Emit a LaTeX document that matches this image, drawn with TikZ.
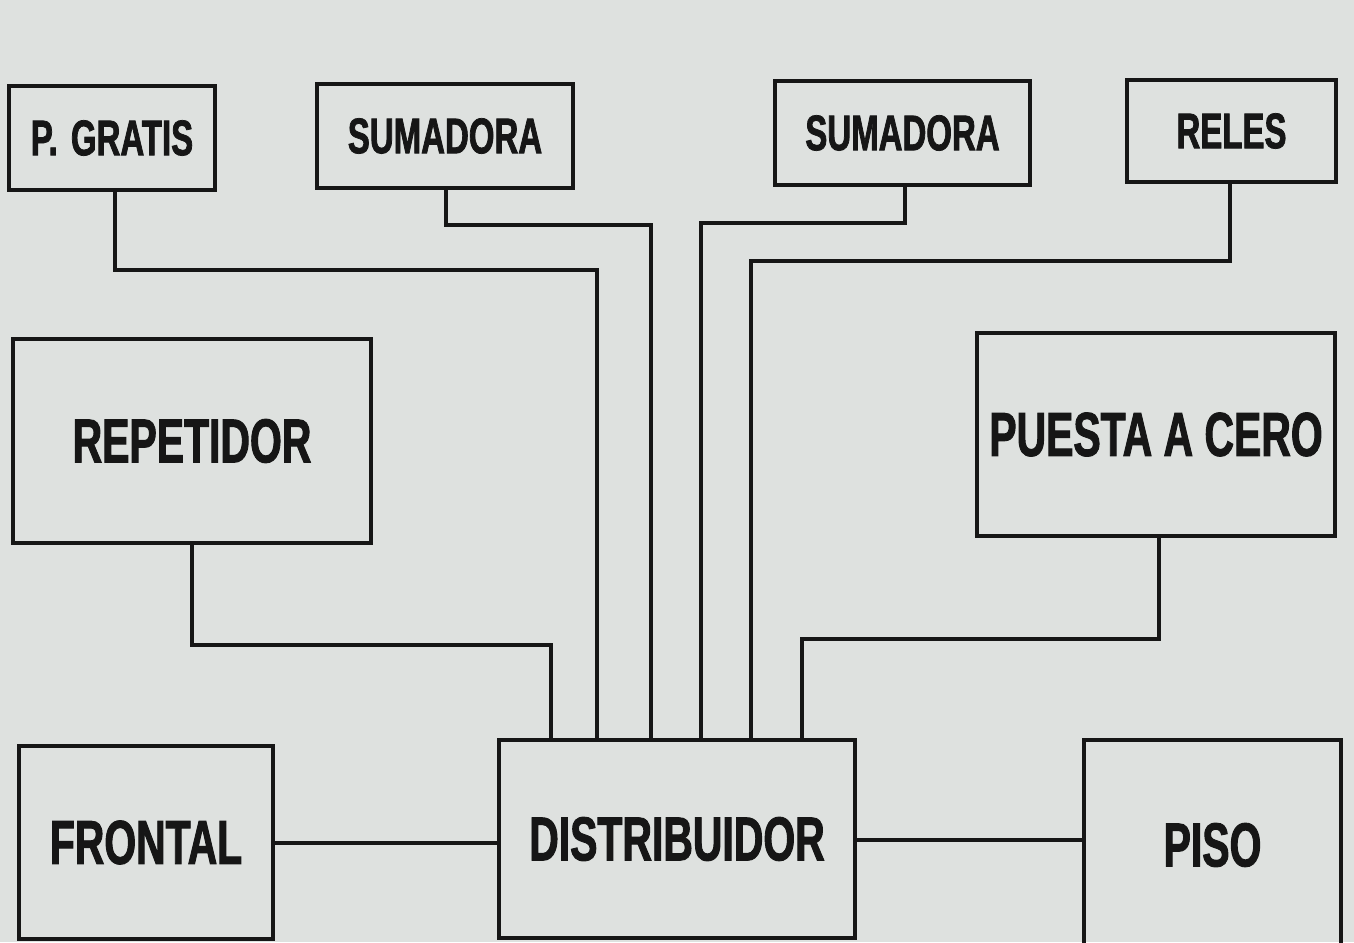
\documentclass[tikz,border=0pt]{standalone}
\usepackage{fontspec}
\newfontfamily\labfont[FakeStretch=0.66,FakeBold=1.5]{Liberation Sans}
\usetikzlibrary{calc}
\definecolor{paper}{RGB}{222,225,223}
\definecolor{ink}{RGB}{22,22,22}
\begin{document}
\begin{tikzpicture}[x=0.5pt,y=0.5pt,
  box/.style={draw=ink, line width=2pt, rectangle, inner sep=0pt, text=ink},
  smallbox/.style={box, font=\labfont\bfseries\fontsize{25}{25}\selectfont},
  bigbox/.style={box, font=\labfont\bfseries\fontsize{31}{31}\selectfont},
  wire/.style={draw=ink, line width=1.8pt, line join=miter}]
\fill[paper] (0,0) rectangle (1354,942);
\useasboundingbox (0,0) rectangle (1354,942);
\clip (0,0) rectangle (1354,942);
% top small boxes (sizes in pt = half of pixel sizes)
\node[smallbox, minimum width=103pt, minimum height=52pt] (pg) at (112,804) {P.\hspace{2pt} GRATIS};
\node[smallbox, minimum width=128pt, minimum height=52pt] (s1) at (445,806) {SUMADORA};
\node[smallbox, minimum width=127.5pt, minimum height=52pt] (s2) at (902.5,809) {SUMADORA};
\node[smallbox, minimum width=104.5pt, minimum height=51pt] (rel) at (1231.5,811) {RELES};
% middle boxes
\node[bigbox, minimum width=179pt, minimum height=102pt] (rep) at (192,501) {REPETIDOR};
\node[bigbox, minimum width=179pt, minimum height=101.5pt] (pc) at (1156,507.5) {PUESTA A CERO};
% bottom boxes
\node[bigbox, minimum width=178pt, minimum height=99pt] (dist) at (677,103) {DISTRIBUIDOR};
\node[bigbox, minimum width=127pt, minimum height=96.5pt] (fr) at (146,99.5) {FRONTAL};
\node[bigbox, minimum width=128.5pt, minimum height=105pt] (piso) at (1212.5,97) {PISO};
% connectors
\draw[wire] (pg.south -| 115,0) |- (597,672) -- (dist.north -| 597,0);
\draw[wire] (s1.south -| 446,0) |- (651,717) -- (dist.north -| 651,0);
\draw[wire] (s2.south -| 905,0) |- (701,719) -- (dist.north -| 701,0);
\draw[wire] (rel.south -| 1230,0) |- (751,681) -- (dist.north -| 751,0);
\draw[wire] (rep.south -| 192,0) |- (551,297) -- (dist.north -| 551,0);
\draw[wire] (pc.south -| 1159,0) |- (802,303) -- (dist.north -| 802,0);
\draw[wire] (fr.east |- 0,99) -- (dist.west |- 0,99);
\draw[wire] (dist.east |- 0,102) -- (piso.west |- 0,102);
\end{tikzpicture}
\end{document}
